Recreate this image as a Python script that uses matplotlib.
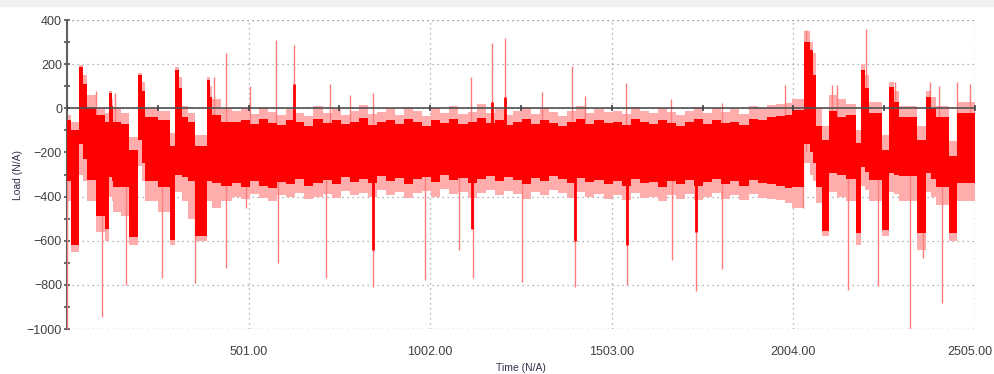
import numpy as np
import matplotlib.pyplot as plt
from matplotlib.patches import Rectangle
from matplotlib.transforms import ScaledTranslation

# ---- data (Load vs Time) ----
# envelope segments: start time of each segment, solid core band and lighter fringe band
EARLY_T = [0, 10, 32, 44, 54, 79, 106, 115, 123, 128, 150, 170, 197, 206, 216, 250, 285,
           299, 308, 316, 335, 354, 386, 394, 400, 425]
STEADY_T = list(range(455, 2000, 25))
LATE_T = [2000, 2033, 2050, 2058, 2066, 2083, 2102, 2125, 2150, 2176, 2190, 2201, 2212,
          2248, 2267, 2281, 2295, 2345, 2369, 2383, 2396, 2432, 2456]
T_END = 2505

core_hi_early = [-55, -100, 185, 110, 0, -30, -60, 68, 10, -60, -70, -190, 150, 80, -40, -55, -170,
                 175, 90, -40, -60, -170, 130, 50, -30, -60]
core_lo_early = [-330, -620, -160, -230, -325, -490, -545, -310, -330, -355, -355, -583, -145, -250,
                 -330, -355, -596, -300, -300, -310, -330, -580, -330, -330, -340, -350]
fringe_hi_early = [-30, -60, 195, 150, 60, 0, -20, 80, 40, 0, -20, -130, 160, 120, 0, -10, -110,
                   185, 140, 10, -20, -120, 140, 100, 40, 0]
fringe_lo_early = [-420, -650, -300, -330, -420, -560, -600, -400, -420, -470, -490, -620, -260, -330,
                   -420, -470, -620, -380, -380, -420, -500, -600, -420, -420, -450, -420]

core_hi_steady = [-60, -55, -70, -50, -65, -75, -55, -60, -80, -50,
                  -65, -55, -70, -60, -45, -75, -60, -55, -70, -50,
                  -60, -80, -55, -65, -50, -70, -60, -45, -65, -55,
                  -75, -60, -50, -70, -55, -65, -80, -60, -50, -70,
                  -55, -65, -60, -75, -50, -60, -70, -55, -65, -80,
                  -60, -50, -70, -55, -65, -60, -75, -50, -55, -40,
                  -35, -30]
core_lo_steady = [-340, -355, -330, -350, -360, -335, -345, -320, -350, -340,
                  -325, -345, -310, -335, -320, -340, -305, -330, -315, -345,
                  -320, -310, -335, -300, -325, -315, -340, -320, -305, -330,
                  -310, -325, -345, -315, -330, -305, -320, -340, -315, -335,
                  -325, -345, -330, -350, -320, -340, -335, -355, -330, -345,
                  -325, -350, -335, -320, -345, -330, -350, -325, -340, -345,
                  -350, -360]
fringe_hi_steady = [-10, 0, -25, 5, -15, -30, -5, -20, -35, 10,
                    -20, -5, -30, -10, 15, -25, -15, 0, -30, 5,
                    -10, -35, 0, -20, 10, -25, -15, 20, -20, -5,
                    -30, -10, 5, -25, 0, -15, -35, -10, 10, -20,
                    -5, -15, -10, -25, 5, -10, -20, 0, -15, -30,
                    -10, 5, -20, 0, -15, -5, -25, 10, 0, 15,
                    20, 25]
fringe_lo_steady = [-400, -410, -390, -405, -420, -395, -400, -385, -410, -400,
                    -390, -405, -375, -395, -385, -400, -370, -395, -380, -405,
                    -385, -375, -400, -365, -390, -380, -405, -385, -370, -395,
                    -375, -390, -410, -380, -395, -370, -385, -405, -380, -400,
                    -390, -410, -395, -415, -385, -405, -400, -420, -395, -410,
                    -390, -415, -400, -385, -410, -395, -415, -390, -405, -410,
                    -415, -430]

core_hi_late = [-8, 300, 265, 150, -80, -143, -10, -38, -30, -158, 173, 90, -23,
                -188, 98, 30, -38, -143, 53, 0, -38, -218, -23]
core_lo_late = [-355, -160, -200, -250, -355, -558, -294, -300, -320, -566, -264, -290, -324,
                -550, -294, -300, -309, -566, -294, -320, -355, -566, -340]
fringe_hi_late = [40, 350, 300, 250, 0, -80, 60, 40, 20, -100, 200, 150, 30,
                  -120, 120, 80, 10, -80, 80, 50, 10, -150, 30]
fringe_lo_late = [-450, -250, -300, -330, -430, -580, -380, -400, -420, -620, -350, -370, -420,
                  -580, -380, -390, -420, -640, -380, -400, -440, -600, -420]

# isolated thin spikes (time, extreme load)
spike_t = [0, 98, 164, 262, 352, 440, 494, 582, 715, 845, 987, 1081, 1120, 1255,
           1401, 1544, 1669, 1734, 1806, 2030, 2155, 2237, 2325, 2360, 2414,
           81, 132, 405, 440, 504, 577, 625, 725, 782, 843, 1114, 1172, 1207, 1310,
           1393, 1429, 1542, 1666, 1806, 1980, 2039, 2110, 2125, 2204, 2285, 2380,
           2405, 2455, 2490]
spike_val = [-1000, -945, -800, -770, -790, -725, -450, -700, -770, -810, -780, -640, -770, -785,
             -810, -800, -686, -830, -730, -450, -822, -807, -1000, -680, -882,
             80, 70, 140, 250, 100, 310, 285, 110, 60, 68, 143, 295, 317, 75,
             190, 55, 113, 40, 25, 105, 355, 105, 105, 360, 120, 120,
             100, 120, 110]

# short excursions of the solid core
dip_t = [845, 1117, 1401, 1544, 1734, 1172, 1207, 625]
dip_val = [-640, -545, -600, -620, -560, 30, 50, 110]

Y_TICKS = [-1000, -800, -600, -400, -200, 0, 200, 400]
X_TICKS = [501, 1002, 1503, 2004, 2505]

# ---- assemble ----
seg_t = EARLY_T + STEADY_T + LATE_T + [T_END]
core_hi = core_hi_early + core_hi_steady + core_hi_late
core_lo = core_lo_early + core_lo_steady + core_lo_late
fr_hi = fringe_hi_early + fringe_hi_steady + fringe_hi_late
fr_lo = fringe_lo_early + fringe_lo_steady + fringe_lo_late
core_hi = core_hi + [core_hi[-1]]
core_lo = core_lo + [core_lo[-1]]
fr_hi = fr_hi + [fr_hi[-1]]
fr_lo = fr_lo + [fr_lo[-1]]

fig = plt.figure(figsize=(9.95, 3.74), dpi=100)
fig.patches.append(Rectangle((0, 0.985), 1, 0.015, transform=fig.transFigure,
                             color='#f0f0f0', zorder=0))
ax = fig.add_axes([0.0673, 0.1203, 0.9127, 0.8262])

ax.fill_between(seg_t, fr_lo, fr_hi, step='post', color='#ffacac', lw=0, zorder=2)
ax.vlines(spike_t, -200, spike_val, color='#ff7c7c', lw=1.0, zorder=3)
ax.fill_between(seg_t, core_lo, core_hi, step='post', color='#ff0000', lw=0, zorder=4)
ax.vlines(dip_t, -200, dip_val, color='#ff0000', lw=2.0, zorder=5)

# zero line with small marks
ax.axhline(0, color='#505050', lw=1.2, zorder=6)
marks = np.arange(0, 2506, 250.5)
ax.plot(marks, np.zeros_like(marks), ls='none', marker='|', ms=4, mew=1.2,
        color='#404040', zorder=7)

ax.set_xlim(0, 2505)
ax.set_ylim(-1000, 400)

ax.set_yticks(Y_TICKS)
ax.set_yticks(np.arange(-1000, 401, 100), minor=True)
ax.set_xticks(X_TICKS)
ax.set_xticklabels([f'{v:.2f}' for v in X_TICKS])

for s in ['top', 'right', 'bottom']:
    ax.spines[s].set_visible(False)
ax.spines['left'].set_color('#606060')
ax.spines['left'].set_linewidth(1.5)

dots = (0, (1, 3))
ax.grid(True, which='major', ls=dots, color='#9a9a9a', lw=0.9, zorder=1)
ax.axhline(400, ls=dots, color='#9a9a9a', lw=0.9, zorder=1)
ax.axvline(2505, ls=dots, color='#9a9a9a', lw=0.9, zorder=1)
ax.axhline(-1000, ls=dots, color='#9a9a9a', lw=0.9, zorder=1)
ax.set_axisbelow(True)

ax.tick_params(axis='y', which='major', direction='inout', length=5, width=1.2,
               color='#505050', labelsize=9, labelcolor='#404040', pad=1)
ax.tick_params(axis='y', which='minor', direction='inout', length=4, width=1.2,
               color='#505050')
ax.tick_params(axis='x', length=0, labelsize=9, labelcolor='#404040', pad=12)
for lab in ax.get_xticklabels() + ax.get_yticklabels():
    lab.set_family(['Liberation Sans', 'DejaVu Sans'])
# last label sits at the right edge; nudge it inside the canvas
last = ax.get_xticklabels()[-1]
last.set_transform(last.get_transform() + ScaledTranslation(-4 / 72, 0, fig.dpi_scale_trans))

ax.set_xlabel('Time (N/A)', fontsize=7.5, color='#303050', labelpad=4,
              family=['Liberation Sans', 'DejaVu Sans'])
ax.set_ylabel('Load (N/A)', fontsize=7.5, color='#303050', labelpad=3,
              family=['Liberation Sans', 'DejaVu Sans'])

fig.savefig('out.png', dpi=100)
